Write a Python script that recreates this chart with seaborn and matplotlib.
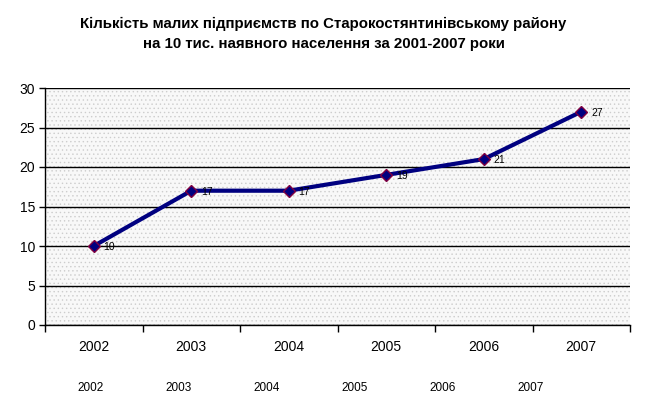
import numpy as np
import pandas as pd
import matplotlib
matplotlib.use('Agg')
import matplotlib.pyplot as plt
import seaborn as sns

# data
years = ['2002', '2003', '2004', '2005', '2006', '2007']
values = [10, 17, 17, 19, 21, 27]
title = ('Кількість малих підприємств по Старокостянтинівському району\n'
         'на 10 тис. наявного населення за 2001-2007 роки')

df = pd.DataFrame({'year': years, 'value': values})

sns.set_style('white')
plt.rcParams['font.family'] = ['Liberation Sans', 'DejaVu Sans']
plt.rcParams['text.color'] = 'black'
plt.rcParams['xtick.color'] = 'black'
plt.rcParams['ytick.color'] = 'black'
plt.rcParams['hatch.linewidth'] = 0.5

W, H = 647, 407
fig = plt.figure(figsize=(W / 100, H / 100), dpi=100)
ax = fig.add_axes([45 / W, 1 - 325 / H, (630 - 45) / W, (325 - 88) / H])

# dotted background
ax.set_facecolor('#f8f8f8')
ax.patch.set_hatch('....')
ax.patch.set_edgecolor('#cdcdcd')
ax.patch.set_linewidth(0)

sns.lineplot(data=df, x='year', y='value', ax=ax, color='#000080', lw=3,
             marker='D', markersize=6.5, markerfacecolor='#000080',
             markeredgecolor='#800040', markeredgewidth=1.0, zorder=3)

for i, v in enumerate(values):
    ax.annotate(str(v), (i, v), xytext=(7, -1), textcoords='offset points',
                ha='left', va='center', fontsize=7.5, color='black', zorder=4)

ax.set_xlim(-0.5, len(years) - 0.5)
ax.set_ylim(0, 30)
ax.set_yticks(range(0, 31, 5))
ax.yaxis.grid(True, color='black', lw=1)
ax.xaxis.grid(False)
ax.set_axisbelow(True)

ax.set_xticks(range(len(years)))
ax.set_xticklabels(years)
ax.set_xticks(np.arange(-0.5, len(years)), minor=True)
ax.tick_params(axis='x', which='major', length=0, pad=11, labelsize=10)
ax.tick_params(axis='x', which='minor', length=5, width=1, color='black',
               direction='out', bottom=True)
ax.tick_params(axis='y', length=4, width=1, color='black', direction='out',
               left=True, pad=3, labelsize=10)
ax.set_xlabel('')
ax.set_ylabel('')

for s in ['top', 'right']:
    ax.spines[s].set_visible(False)
for s in ['left', 'bottom']:
    ax.spines[s].set_color('black')
    ax.spines[s].set_linewidth(1)

fig.text(0.5, 1 - 34 / H, title, ha='center', va='center', color='black',
         fontsize=10.8, fontweight='bold', linespacing=1.55)

# second row of year labels under the chart
for i, y in enumerate(years):
    fig.text((91 + i * 88) / W, 1 - 388 / H, y, ha='center', va='center',
             fontsize=8.5, color='black')

fig.savefig('out.png', dpi=100)
